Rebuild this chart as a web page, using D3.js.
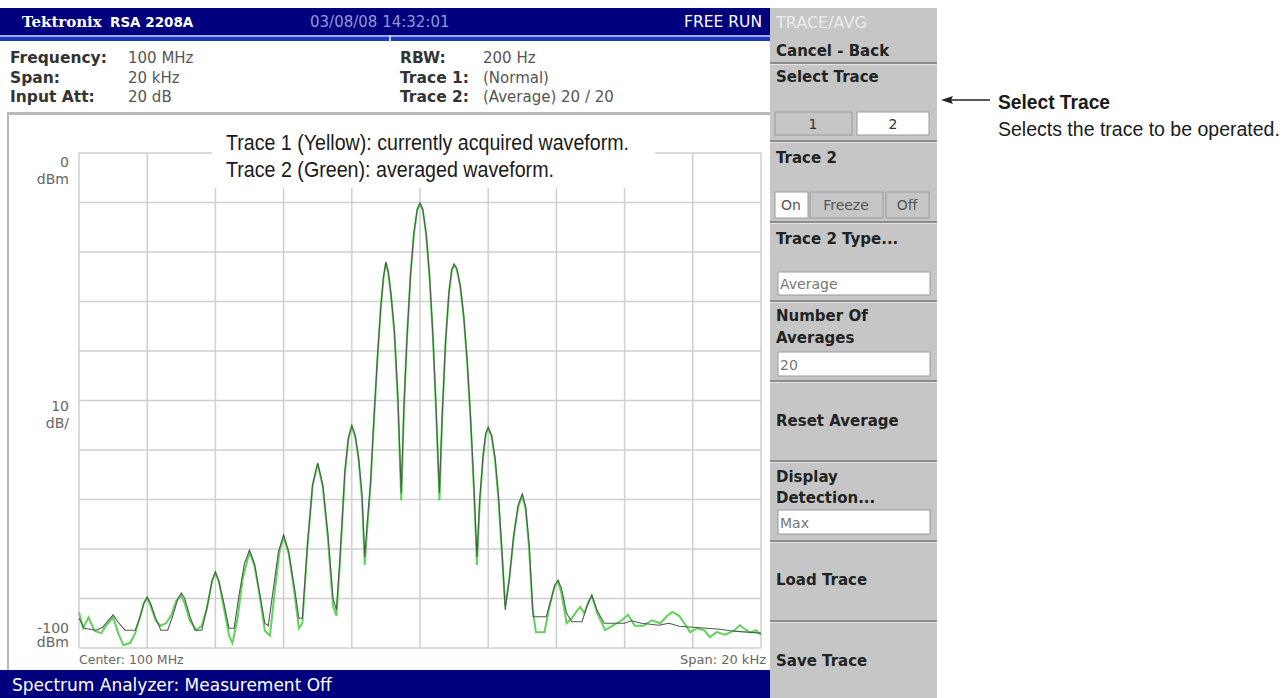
<!DOCTYPE html>
<html>
<head>
<meta charset="utf-8">
<script src="https://cdn.jsdelivr.net/npm/d3@7"></script>
<style>
  body { margin: 0; background: #fff; }
  svg { display: block; }
</style>
</head>
<body>
<div id="chart"></div>
<script>
// spectrum traces: [offset from center (kHz), level (dBm)]
const trace1 = [
  [-10.0,-94.0],[-9.85,-96.0],[-9.5,-96.4],[-9.3,-95.8],[-9.15,-94.5],[-9.0,-93.3],[-8.85,-94.8],[-8.65,-96.4],[-8.35,-96.4],[-8.2,-93.5],
  [-8.1,-91.0],[-8.0,-89.7],[-7.9,-91.0],[-7.75,-94.0],[-7.6,-96.4],[-7.4,-96.4],[-7.25,-93.5],[-7.1,-90.0],[-7.0,-88.9],[-6.9,-90.0],
  [-6.75,-93.5],[-6.6,-96.4],[-6.4,-96.4],[-6.25,-92.0],[-6.1,-86.5],[-6.0,-84.6],[-5.9,-86.5],[-5.75,-91.0],[-5.6,-96.0],[-5.45,-96.0],
  [-5.3,-89.0],[-5.15,-83.0],[-5.0,-80.2],[-4.85,-83.0],[-4.7,-89.0],[-4.55,-95.0],[-4.45,-95.5],[-4.3,-88.0],[-4.15,-80.5],[-4.0,-77.2],
  [-3.85,-80.5],[-3.7,-87.0],[-3.55,-94.0],[-3.45,-94.0],[-3.3,-79.0],[-3.15,-67.0],[-3.0,-62.6],[-2.85,-67.0],[-2.7,-77.0],[-2.55,-90.0],
  [-2.45,-92.3],[-2.35,-82.0],[-2.2,-64.0],[-2.1,-57.5],[-2.0,-55.0],[-1.9,-57.0],[-1.8,-61.5],[-1.7,-69.0],[-1.62,-81.6],[-1.55,-75.0],
  [-1.45,-66.5],[-1.35,-53.5],[-1.25,-41.5],[-1.15,-31.0],[-1.07,-25.0],[-1.0,-22.0],[-0.93,-24.0],[-0.85,-28.5],[-0.75,-36.0],[-0.65,-49.0],
  [-0.55,-68.7],[-0.47,-51.0],[-0.38,-37.0],[-0.28,-24.8],[-0.18,-16.2],[-0.08,-11.3],[0.0,-10.1],[0.08,-11.3],[0.18,-16.2],[0.28,-24.8],
  [0.38,-37.0],[0.48,-53.0],[0.57,-68.7],[0.65,-53.0],[0.75,-38.0],[0.85,-28.0],[0.93,-23.6],[1.0,-22.4],[1.08,-23.3],[1.18,-26.7],
  [1.28,-32.7],[1.38,-41.5],[1.48,-53.0],[1.58,-67.0],[1.67,-81.6],[1.75,-70.0],[1.85,-61.0],[1.93,-56.6],[2.0,-55.4],[2.1,-57.0],
  [2.2,-61.5],[2.3,-69.0],[2.42,-82.0],[2.5,-92.3],[2.62,-86.0],[2.75,-77.0],[2.88,-71.0],[3.0,-68.9],[3.1,-71.5],[3.2,-79.0],
  [3.32,-93.7],[3.7,-93.7],[3.85,-90.0],[3.95,-87.3],[4.05,-86.3],[4.15,-88.0],[4.3,-93.0],[4.45,-94.7],[4.75,-94.7],[4.9,-91.5],
  [5.04,-89.3],[5.2,-92.5],[5.4,-95.0],[6.0,-95.0],[6.2,-94.5],[6.5,-95.0],[7.0,-95.4],[7.3,-95.0],[7.6,-95.6],[8.0,-95.8],
  [8.4,-96.0],[8.8,-96.2],[9.2,-96.6],[9.6,-96.8],[10.0,-97.0]
];

const trace2 = [
  [-10.0,-92.8],[-9.88,-96.0],[-9.72,-93.8],[-9.55,-96.5],[-9.35,-97.0],[-9.15,-95.0],[-9.0,-93.8],[-8.85,-97.0],[-8.7,-99.4],[-8.5,-99.0],
  [-8.35,-97.0],[-8.2,-93.5],[-8.1,-91.0],[-8.0,-89.9],[-7.9,-91.5],[-7.75,-94.5],[-7.6,-95.5],[-7.45,-95.0],[-7.3,-93.5],[-7.15,-90.5],
  [-7.0,-89.5],[-6.9,-91.0],[-6.75,-94.5],[-6.55,-96.4],[-6.4,-95.5],[-6.25,-92.0],[-6.1,-86.5],[-6.0,-84.8],[-5.9,-86.5],[-5.75,-92.0],
  [-5.6,-97.5],[-5.5,-99.0],[-5.35,-94.0],[-5.2,-86.0],[-5.0,-80.6],[-4.85,-83.5],[-4.7,-89.5],[-4.55,-96.5],[-4.4,-97.5],[-4.25,-88.0],
  [-4.12,-80.5],[-4.0,-77.5],[-3.85,-81.0],[-3.7,-88.0],[-3.55,-96.0],[-3.45,-95.0],[-3.3,-79.5],[-3.15,-67.2],[-3.0,-62.8],[-2.85,-67.5],
  [-2.7,-78.0],[-2.55,-91.5],[-2.45,-93.5],[-2.35,-83.0],[-2.2,-64.5],[-2.1,-57.8],[-2.0,-55.2],[-1.9,-57.3],[-1.8,-62.0],[-1.7,-70.0],
  [-1.62,-83.2],[-1.55,-76.0],[-1.45,-67.0],[-1.35,-54.0],[-1.25,-41.8],[-1.15,-31.2],[-1.07,-25.2],[-1.0,-22.2],[-0.93,-24.2],[-0.85,-28.8],
  [-0.75,-36.5],[-0.65,-50.0],[-0.55,-70.2],[-0.47,-51.5],[-0.38,-37.3],[-0.28,-25.0],[-0.18,-16.4],[-0.08,-11.5],[0.0,-10.3],[0.08,-11.5],
  [0.18,-16.4],[0.28,-25.0],[0.38,-37.3],[0.48,-53.5],[0.57,-70.2],[0.65,-53.5],[0.75,-38.3],[0.85,-28.2],[0.93,-23.8],[1.0,-22.6],
  [1.08,-23.5],[1.18,-27.0],[1.28,-33.0],[1.38,-42.0],[1.48,-53.5],[1.58,-68.0],[1.67,-83.2],[1.75,-71.0],[1.85,-61.5],[1.93,-56.8],
  [2.0,-55.6],[2.1,-57.3],[2.2,-62.0],[2.3,-70.0],[2.42,-83.0],[2.5,-91.5],[2.62,-86.0],[2.75,-77.5],[2.88,-71.5],[3.0,-69.2],
  [3.1,-72.0],[3.2,-80.0],[3.3,-92.0],[3.4,-96.8],[3.65,-96.8],[3.8,-91.5],[3.95,-87.5],[4.05,-86.6],[4.15,-89.0],[4.3,-95.0],
  [4.45,-94.0],[4.6,-92.5],[4.7,-91.7],[4.82,-93.0],[4.95,-90.5],[5.04,-89.5],[5.2,-93.0],[5.43,-96.4],[5.65,-95.5],[5.9,-94.5],
  [6.1,-93.3],[6.3,-95.5],[6.55,-95.5],[6.8,-94.4],[7.05,-95.0],[7.25,-93.5],[7.4,-92.7],[7.6,-93.5],[7.8,-95.5],[7.92,-96.8],
  [8.15,-96.0],[8.35,-96.5],[8.5,-97.8],[8.7,-96.8],[8.95,-97.3],[9.2,-96.5],[9.38,-95.4],[9.55,-96.3],[9.68,-96.9],[9.85,-96.4],
  [10.0,-97.4]
];

// grid divisions
const freqTicks = [-10, -8, -6, -4, -2, 0, 2, 4, 6, 8, 10];
const levelTicks = [0, -10, -20, -30, -40, -50, -60, -70, -80, -90, -100];

// readouts
const infoLeft = [['Frequency:', '100 MHz'], ['Span:', '20 kHz'], ['Input Att:', '20 dB']];
const infoRight = [['RBW:', '200 Hz'], ['Trace 1:', '(Normal)'], ['Trace 2:', '(Average)  20 / 20']];
const notes = ['Trace 1 (Yellow): currently acquired waveform.', 'Trace 2 (Green): averaged waveform.'];

const ui = '"DejaVu Sans", Verdana, sans-serif';
const helv = '"Liberation Sans", Arial, Helvetica, sans-serif';

const svg = d3.select('#chart').append('svg')
    .attr('width', 1287)
    .attr('height', 698);

function label(g, x, y, s, size, opts = {}) {
    const t = g.append('text')
        .attr('x', x)
        .attr('y', y)
        .attr('font-family', opts.family || ui)
        .attr('font-size', size)
        .attr('font-weight', opts.bold ? 'bold' : 'normal')
        .attr('fill', opts.fill || '#222')
        .attr('text-anchor', opts.anchor || 'start')
        .text(s);
    // condensed face: squeeze a regular face to the width seen in the picture
    if (opts.width) t.attr('textLength', opts.width).attr('lengthAdjust', 'spacingAndGlyphs');
    return t;
}

// ---- header ----
svg.append('rect').attr('x', 0).attr('y', 8).attr('width', 770).attr('height', 27).attr('fill', '#00007f');
svg.append('rect').attr('x', 0).attr('y', 35).attr('width', 770).attr('height', 2).attr('fill', '#9aa6f2');
svg.append('rect').attr('x', 0).attr('y', 37).attr('width', 770).attr('height', 4).attr('fill', '#1f35c4');
svg.append('rect').attr('x', 389).attr('y', 35).attr('width', 2).attr('height', 7).attr('fill', '#c8d0ff');

label(svg, 22, 27, 'Tektronix', 15, { bold: true, fill: '#fff', family: '"DejaVu Serif", serif' });
label(svg, 110, 27, 'RSA 2208A', 13.5, { bold: true, fill: '#fff' });
label(svg, 310, 27, '03/08/08 14:32:01', 15, { fill: '#9098d4' });
label(svg, 762, 27, 'FREE RUN', 15.5, { fill: '#fff', anchor: 'end' });

infoLeft.forEach((d, i) => {
    label(svg, 10, 63 + i * 19.5, d[0], 15.5, { bold: true, fill: '#333' });
    label(svg, 128, 63 + i * 19.5, d[1], 15, { fill: '#555' });
});
infoRight.forEach((d, i) => {
    label(svg, 400, 63 + i * 19.5, d[0], 15.5, { bold: true, fill: '#333' });
    label(svg, 483, 63 + i * 19.5, d[1], 15, { fill: '#555' });
});

// ---- plot frame ----
svg.append('rect').attr('x', 7).attr('y', 112).attr('width', 763).attr('height', 3).attr('fill', '#b9b9b9');
svg.append('rect').attr('x', 7).attr('y', 112).attr('width', 2).attr('height', 558).attr('fill', '#b9b9b9');

const x = d3.scaleLinear().domain([-10, 10]).range([79, 761]);
const y = d3.scaleLinear().domain([-100, 0]).range([648, 153]);

const grid = svg.append('g');
grid.selectAll('.vline')
    .data(freqTicks)
    .enter()
    .append('line')
    .attr('x1', d => x(d)).attr('x2', d => x(d))
    .attr('y1', y(0)).attr('y2', y(-100))
    .attr('stroke', '#cfcfcf')
    .attr('stroke-width', 1.5);
grid.selectAll('.hline')
    .data(levelTicks)
    .enter()
    .append('line')
    .attr('x1', x(-10)).attr('x2', x(10))
    .attr('y1', d => y(d)).attr('y2', d => y(d))
    .attr('stroke', '#cfcfcf')
    .attr('stroke-width', 1.5);

// axis annotations
const axisGray = '#666';
label(svg, 69, y(0) + 14, '0', 14, { fill: axisGray, anchor: 'end' });
label(svg, 69, y(0) + 31, 'dBm', 14, { fill: axisGray, anchor: 'end' });
label(svg, 69, y(-50) + 10, '10', 14, { fill: axisGray, anchor: 'end' });
label(svg, 69, y(-50) + 27, 'dB/', 14, { fill: axisGray, anchor: 'end' });
label(svg, 69, y(-100) - 15, '-100', 14, { fill: axisGray, anchor: 'end' });
label(svg, 69, y(-100) - 1, 'dBm', 14, { fill: axisGray, anchor: 'end' });
label(svg, x(-10), 664, 'Center: 100 MHz', 12.5, { fill: axisGray });
label(svg, x(10) + 5, 664, 'Span: 20 kHz', 13, { fill: axisGray, anchor: 'end' });

// ---- traces ----
const line = d3.line()
    .x(d => x(d[0]))
    .y(d => y(d[1]));

svg.append('path')
    .datum(trace2)
    .attr('fill', 'none')
    .attr('stroke', '#5fd35a')
    .attr('stroke-width', 2)
    .attr('d', line);

svg.append('path')
    .datum(trace1)
    .attr('fill', 'none')
    .attr('stroke', '#4b5e4b')
    .attr('stroke-width', 1.1)
    .attr('d', line);

// explanation box over the graticule
svg.append('rect').attr('x', 212).attr('y', 122).attr('width', 443).attr('height', 66).attr('fill', '#fff');
label(svg, 226, 150, notes[0], 22, { family: helv, fill: '#1a1a1a', width: 403 });
label(svg, 226, 177, notes[1], 22, { family: helv, fill: '#1a1a1a', width: 328 });

// ---- status bar ----
svg.append('rect').attr('x', 0).attr('y', 670).attr('width', 770).attr('height', 28).attr('fill', '#00007f');
label(svg, 12, 691, 'Spectrum Analyzer: Measurement Off', 17, { fill: '#fff' });

// ---- side menu ----
const menu = svg.append('g');
menu.append('rect').attr('x', 770).attr('y', 8).attr('width', 167).attr('height', 690).attr('fill', '#c6c6c6');

function sep(yy) {
    menu.append('rect').attr('x', 770).attr('y', yy).attr('width', 167).attr('height', 2).attr('fill', '#8c8c8c');
    menu.append('rect').attr('x', 770).attr('y', yy + 2).attr('width', 167).attr('height', 1).attr('fill', '#e4e4e4');
}
function box(x0, y0, w, h, fill) {
    menu.append('rect').attr('x', x0).attr('y', y0).attr('width', w).attr('height', h)
        .attr('fill', fill).attr('stroke', '#9a9a9a').attr('stroke-width', 1);
}

const mb = 15;
label(menu, 776, 28, 'TRACE/AVG', 16, { fill: '#ececec' });
label(menu, 776, 56, 'Cancel - Back', mb, { bold: true });
sep(62);
label(menu, 776, 82, 'Select Trace', mb, { bold: true });
box(775, 112, 77, 23, '#c6c6c6');
box(857, 112, 72, 23, '#fff');
label(menu, 813, 129, '1', 14, { anchor: 'middle', fill: '#333' });
label(menu, 893, 129, '2', 14, { anchor: 'middle', fill: '#333' });
sep(140);
label(menu, 776, 163, 'Trace 2', mb, { bold: true });
box(775, 192, 33, 26, '#fff');
box(810, 192, 73, 26, '#c6c6c6');
box(886, 192, 43, 26, '#c6c6c6');
label(menu, 791, 210, 'On', 14, { anchor: 'middle', fill: '#555' });
label(menu, 846, 210, 'Freeze', 14, { anchor: 'middle', fill: '#555' });
label(menu, 907, 210, 'Off', 14, { anchor: 'middle', fill: '#555' });
sep(221);
label(menu, 776, 244, 'Trace 2 Type...', mb, { bold: true });
box(778, 272, 152, 23, '#fff');
label(menu, 780, 289, 'Average', 14, { fill: '#777' });
sep(300);
label(menu, 776, 321, 'Number Of', mb, { bold: true });
label(menu, 776, 343, 'Averages', mb, { bold: true });
box(778, 352, 152, 24, '#fff');
label(menu, 780, 370, '20', 14, { fill: '#777' });
sep(380);
label(menu, 776, 426, 'Reset Average', mb, { bold: true });
sep(460);
label(menu, 776, 482, 'Display', mb, { bold: true });
label(menu, 776, 503, 'Detection...', mb, { bold: true });
box(778, 510, 152, 24, '#fff');
label(menu, 780, 528, 'Max', 14, { fill: '#777' });
sep(540);
label(menu, 776, 585, 'Load Trace', mb, { bold: true });
sep(620);
label(menu, 776, 666, 'Save Trace', mb, { bold: true });

// ---- callout ----
svg.append('line')
    .attr('x1', 946).attr('x2', 990)
    .attr('y1', 100).attr('y2', 100)
    .attr('stroke', '#222').attr('stroke-width', 1.5);
svg.append('path')
    .attr('d', 'M941,100 L953,96 L951,100 L953,104 Z')
    .attr('fill', '#222');
label(svg, 998, 109, 'Select Trace', 21, { family: helv, bold: true, fill: '#1a1a1a', width: 112 });
label(svg, 998, 136, 'Selects the trace to be operated.', 19.5, { family: helv, fill: '#1a1a1a' });
</script>
</body>
</html>
